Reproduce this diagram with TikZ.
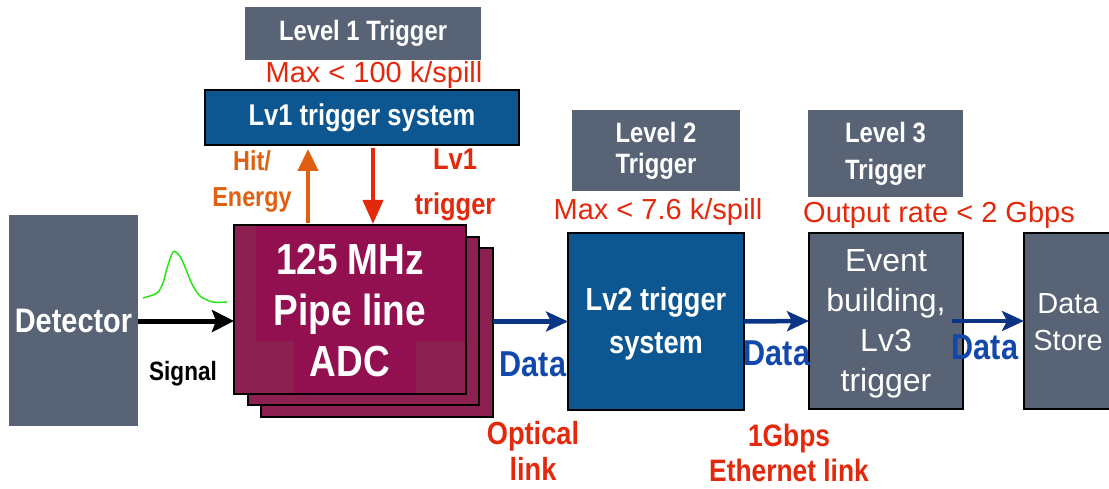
\documentclass[tikz,border=0pt]{standalone}
\usepackage{fontspec}
\setmainfont{Liberation Sans}
\newfontfamily\condf[FakeStretch=0.85]{Liberation Sans}
\usetikzlibrary{arrows.meta,calc}
\definecolor{slateC}{RGB}{88,99,117}
\definecolor{blueC}{RGB}{12,86,146}
\definecolor{adcC}{RGB}{147,16,80}
\definecolor{adcL}{RGB}{140,32,80}
\definecolor{redT}{RGB}{228,40,12}
\definecolor{orangeT}{RGB}{222,96,16}
\definecolor{blueT}{RGB}{18,72,170}
\definecolor{navyA}{RGB}{12,52,132}
\definecolor{pulseG}{RGB}{40,230,20}
\tikzset{
  slatebox/.style={fill=slateC, draw=none, text=white},
  bluebox/.style={fill=blueC, draw=black, line width=2pt, text=white},
  darkbox/.style={fill=slateC, draw=black, line width=2pt, text=white},
  bcond/.style={font=\condf\bfseries\fontsize{#1}{#1}\selectfont},
  rlabel/.style={text=redT, font=\fontsize{29}{33}\selectfont},
  datalbl/.style={text=blueT, font=\condf\bfseries\fontsize{36}{40}\selectfont},
  bluearrow/.style={draw=navyA, line width=4.5pt, -{Stealth[length=22pt,width=20pt,inset=5pt]}},
}
\begin{document}
\begin{tikzpicture}[x=1pt,y=-1pt, every node/.style={inner sep=0pt, outer sep=0pt}]
\useasboundingbox (0,0) rectangle (1109,489);

% Detector
\node[slatebox, minimum width=129pt, minimum height=211pt] (det) at (73.5,320.5) {};
\node[text=white, bcond=34] (dett) at (det.center) {Detector};

% Level 1
\node[slatebox, minimum width=236pt, minimum height=53pt] (lvl1) at (363,33.5) {};
\node[text=white, bcond=28] (lvl1t) at (lvl1.center) {Level 1 Trigger};
\node[rlabel] (max1) at (374,75) {Max < 100 k/spill};
\node[bluebox, minimum width=314pt, minimum height=55pt] (lv1) at (362,117.5) {};
\node[text=white, bcond=30] (lv1t) at (lv1.center) {Lv1 trigger system};

% ADC stack
\node[fill=adcL, draw=black, line width=2pt, minimum width=232pt, minimum height=169pt] (adc3) at (377,332.5) {};
\node[fill=adcL, draw=black, line width=2pt, minimum width=231pt, minimum height=168pt] (adc2) at (363.5,321) {};
\node[fill=adcC, minimum width=232pt, minimum height=169pt] (adc1) at (350,309.5) {};
\fill[adcL] (adc1.north west) rectangle ($(adc1.north west)+(22,116)$);
\fill[adcL] ($(adc1.south west)+(0,-53)$) rectangle ($(adc1.south west)+(60,0)$);
\fill[adcL] ($(adc1.south east)+(-50,-53)$) rectangle (adc1.south east);
\draw[black, line width=2pt] (adc1.north west) rectangle (adc1.south east);
\node[text=white, align=center, font=\condf\bfseries\fontsize{43.5}{51}\selectfont] (adct) at (350,311) {125 MHz\\Pipe line\\ADC};

% Lv1 arrows
\draw[draw=orangeT, line width=4.5pt, -{Triangle[length=22pt,width=20pt]}] ($(adc1.north west)+(74,-2)$) -- ($(lv1.south west)+(103,4)$);
\draw[draw=redT, line width=4pt, -{Triangle[length=24pt,width=20pt]}] ($(lv1.south west)+(168,3)$) -- ($(adc1.north west)+(139,-1)$);
\node[text=orangeT, align=center, font=\condf\bfseries\fontsize{27.5}{36}\selectfont] (hit) at (252,181) {Hit/\\Energy};
\node[text=redT, align=center, font=\condf\bfseries\fontsize{30}{45}\selectfont] (lv1trig) at (455,185) {Lv1\\trigger};

% Signal
\draw[pulseG, line width=1.5pt] plot[smooth, tension=0.5] coordinates {(143,298) (157,293) (163,283) (167,268) (173,252) (178,254) (182,260) (187,272) (192,284) (200,296) (213,302) (227,302)};
\draw[black, line width=5pt, -{Stealth[length=22pt,width=22pt,inset=4pt]}] (det.east |- 0,321) -- (adc1.west |- 0,321);
\node[text=black, font=\condf\bfseries\fontsize{26.5}{30}\selectfont] (sig) at (183,374) {Signal};

% Level 2
\node[slatebox, minimum width=168pt, minimum height=81pt] (lvl2) at (656,150.5) {};
\node[text=white, align=center, font=\condf\bfseries\fontsize{28}{31}\selectfont] (lvl2t) at (lvl2.center) {Level 2\\Trigger};
\node[rlabel] (max2) at (658,212) {Max < 7.6 k/spill};
\node[bluebox, minimum width=176pt, minimum height=177pt] (lv2) at (656,321.5) {};
\node[text=white, align=center, font=\condf\bfseries\fontsize{32}{43}\selectfont] (lv2t) at (656,324) {Lv2 trigger\\system};

\draw[bluearrow] (adc3.east |- lv2.west) -- (lv2.west);
\node[datalbl] (d1) at (533,364) {Data};
\node[text=redT, align=center, font=\condf\bfseries\fontsize{32}{36}\selectfont] (opt) at (533,451) {Optical\\link};

% Level 3
\node[slatebox, minimum width=155pt, minimum height=87pt] (lvl3) at (885.5,153.5) {};
\node[text=white, align=center, font=\condf\bfseries\fontsize{28}{37}\selectfont] (lvl3t) at (lvl3.center) {Level 3\\Trigger};
\node[rlabel] (outr) at (939,215) {Output rate < 2 Gbps};
\node[darkbox, minimum width=154pt, minimum height=176pt] (ev) at (886,321) {};
\node[text=white, align=center, font=\fontsize{32}{40}\selectfont] (evt) at (886,324) {Event\\building,\\Lv3\\trigger};

\draw[bluearrow] (lv2.east) -- (ev.west);
\node[datalbl] (d2) at (777,353) {Data};
\node[text=redT, align=center, font=\condf\bfseries\fontsize{31}{35}\selectfont] (eth) at (789,453) {1Gbps\\Ethernet link};

% Data store
\node[darkbox, minimum width=88pt, minimum height=176pt] (ds) at (1068,321) {};
\node[text=white, align=center, font=\fontsize{29}{37}\selectfont] (dst) at (1068,322) {Data\\Store};
\draw[bluearrow] ([xshift=-11pt]ev.east) -- (ds.west);
\node[datalbl] (d3) at (985,347) {Data};
\end{tikzpicture}
\end{document}
